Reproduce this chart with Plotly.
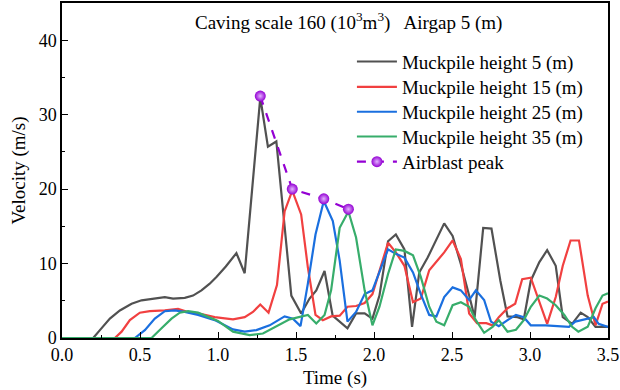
import plotly.graph_objects as go

# ---- data ----
t_h5 = [0, 0.2, 0.243, 0.307, 0.371, 0.446, 0.51, 0.584, 0.659, 0.712, 0.787, 0.84, 0.894, 0.947, 0.99, 1.05,
        1.118, 1.171, 1.271, 1.32, 1.374, 1.47, 1.533, 1.587, 1.63, 1.683, 1.735, 1.83, 1.885, 1.94, 1.99,
        2.035, 2.09, 2.14, 2.195, 2.244, 2.29, 2.344, 2.40, 2.45, 2.504, 2.557, 2.61, 2.645, 2.70, 2.753,
        2.81, 2.856, 2.92, 2.96, 3.005, 3.06, 3.11, 3.165, 3.21, 3.27, 3.325, 3.37, 3.42, 3.5]
v_h5 = [0, 0, 1.06, 2.6, 3.7, 4.6, 5.06, 5.3, 5.5, 5.3, 5.4, 5.7, 6.4, 7.3, 8.2, 9.6,
        11.4, 8.7, 32.3, 25.7, 26.4, 5.7, 3.3, 5.3, 6.4, 9.0, 3.0, 1.3, 3.3, 3.3, 2.6,
        5.7, 13.0, 13.9, 11.9, 1.5, 8.8, 10.8, 13.3, 15.4, 13.7, 9.9, 5.7, 2.8, 14.8, 14.7,
        7.7, 2.9, 2.8, 2.5, 7.7, 10.2, 11.8, 9.7, 2.8, 1.9, 3.4, 2.8, 1.5, 1.5]

t_h15 = [0, 0.339, 0.382, 0.435, 0.499, 0.563, 0.659, 0.744, 0.808, 0.894, 0.979, 1.096, 1.171, 1.224, 1.271,
         1.324, 1.378, 1.427, 1.476, 1.533, 1.576, 1.625, 1.672, 1.725, 1.78, 1.83, 1.885, 1.94, 1.99, 2.035,
         2.09, 2.14, 2.195, 2.25, 2.30, 2.354, 2.40, 2.45, 2.504, 2.557, 2.61, 2.66, 2.72, 2.76, 2.80, 2.856,
         2.905, 2.95, 3.005, 3.06, 3.11, 3.165, 3.21, 3.26, 3.314, 3.37, 3.42, 3.465, 3.5]
v_h15 = [0, 0, 0.85, 2.4, 3.4, 3.6, 3.7, 3.9, 3.5, 3.2, 2.8, 2.5, 2.8, 3.5, 4.5,
         3.4, 7.1, 17.0, 19.8, 16.6, 9.5, 3.1, 2.4, 2.9, 3.0, 4.2, 4.3, 4.7, 5.9, 9.1,
         12.8, 11.5, 9.7, 4.8, 5.3, 9.1, 10.2, 11.5, 13.1, 10.6, 3.3, 2.0, 2.0, 1.7, 2.8, 4.0,
         4.6, 7.9, 8.1, 4.8, 1.9, 5.5, 9.7, 13.1, 13.1, 5.7, 1.7, 4.6, 4.9]

t_h25 = [0, 0.467, 0.531, 0.595, 0.659, 0.723, 0.787, 0.872, 0.979, 1.096, 1.171, 1.246, 1.331, 1.427, 1.48,
         1.529, 1.576, 1.625, 1.678, 1.736, 1.78, 1.83, 1.885, 1.94, 1.99, 2.035, 2.09, 2.14, 2.195, 2.25,
         2.30, 2.354, 2.40, 2.45, 2.504, 2.557, 2.61, 2.653, 2.706, 2.75, 2.80, 2.856, 2.91, 2.96, 3.005,
         3.1, 3.2, 3.25, 3.29, 3.357, 3.41, 3.44, 3.5]
v_h25 = [0, 0, 1.06, 2.6, 3.6, 3.7, 3.5, 3.1, 2.4, 1.15, 0.85, 1.06, 1.7, 2.9, 2.6,
         1.6, 7.3, 13.9, 18.4, 15.7, 10.4, 2.2, 3.5, 5.9, 6.4, 8.8, 11.9, 11.3, 10.8, 8.8,
         5.9, 3.1, 2.9, 5.5, 6.8, 6.4, 5.1, 6.4, 5.1, 2.2, 1.6, 2.4, 3.1, 2.8, 1.7,
         1.7, 1.6, 1.5, 2.2, 2.5, 2.8, 1.9, 1.5]

t_h35 = [0, 0.574, 0.638, 0.702, 0.755, 0.808, 0.872, 0.936, 1.0, 1.096, 1.203, 1.288, 1.374, 1.459, 1.576,
         1.63, 1.683, 1.725, 1.78, 1.836, 1.885, 1.94, 1.99, 2.035, 2.09, 2.14, 2.195, 2.25, 2.30, 2.354,
         2.40, 2.45, 2.504, 2.557, 2.61, 2.653, 2.706, 2.76, 2.80, 2.856, 2.91, 2.96, 3.005, 3.06, 3.11,
         3.165, 3.22, 3.27, 3.31, 3.37, 3.42, 3.465, 3.5]
v_h35 = [0, 0, 1.3, 2.6, 3.4, 3.6, 3.4, 2.9, 2.3, 0.85, 0.4, 0.6, 1.5, 2.5, 3.1,
         1.95, 3.1, 6.4, 14.8, 17.0, 13.5, 6.4, 1.7, 4.2, 8.6, 11.9, 11.7, 11.1, 8.2, 4.2,
         2.2, 1.7, 4.4, 4.8, 4.2, 2.4, 0.7, 1.5, 2.4, 0.85, 1.1, 2.4, 4.2, 5.7, 5.3,
         4.4, 3.1, 1.5, 0.85, 1.5, 4.0, 5.7, 6.0]

t_peak = [1.271, 1.476, 1.678, 1.836]
v_peak = [32.5, 20.0, 18.7, 17.3]

names = ["Muckpile height 5 (m)", "Muckpile height 15 (m)", "Muckpile height 25 (m)", "Muckpile height 35 (m)"]
colors = ["#515151", "#F14040", "#1A6FDF", "#37AD6B"]
series = [(t_h5, v_h5), (t_h15, v_h15), (t_h25, v_h25), (t_h35, v_h35)]

FONT = "Liberation Serif"
legend_ids = ["legend", "legend2", "legend3", "legend4", "legend5"]
legend_rows = [0.825, 0.749, 0.675, 0.601, 0.526]

fig = go.Figure()
for (tt, vv), nm, col, lg in zip(series, names, colors, legend_ids):
    fig.add_trace(go.Scatter(x=tt, y=vv, mode="lines", name=nm, legend=lg,
                             line=dict(color=col, width=2.2)))

fig.add_trace(go.Scatter(x=t_peak, y=v_peak, mode="lines+markers", name="Airblast peak",
                         legend=legend_ids[4],
                         line=dict(color="#9400D3", width=2.2, dash="dash"),
                         marker=dict(color="#9400D3", size=11,
                                     gradient=dict(type="radial", color="#E2B3FF"),
                                     line=dict(width=0))))

fig.add_annotation(x=0.525, y=0.945, xref="paper", yref="paper",
                   text="Caving scale 160 (10<sup>3</sup>m<sup>3</sup>)   Airgap 5 (m)",
                   showarrow=False, font=dict(family=FONT, size=19, color="black"),
                   xanchor="center", yanchor="middle")

axis_common = dict(showline=True, linecolor="black", linewidth=1.5, mirror=True,
                   ticks="inside", ticklen=6, tickwidth=1.3, tickcolor="black",
                   showgrid=False, zeroline=False, ticklabeloverflow="allow",
                   tickfont=dict(family=FONT, size=18, color="black"))

fig.update_xaxes(range=[0, 3.5], dtick=0.5, tickformat=".1f",
                 minor=dict(ticks="inside", ticklen=3, dtick=0.25, tickcolor="black", tickwidth=1.2),
                 title=dict(text="Time (s)", font=dict(family=FONT, size=19, color="black"), standoff=6),
                 **axis_common)
fig.update_yaxes(range=[0, 45], dtick=10,
                 minor=dict(ticks="inside", ticklen=3, dtick=5, tickcolor="black", tickwidth=1.2),
                 title=dict(text="Velocity (m/s)", font=dict(family=FONT, size=19, color="black"), standoff=8),
                 **axis_common)

legend_style = dict(x=0.531, xanchor="left", yanchor="middle",
                    bgcolor="rgba(0,0,0,0)", borderwidth=0,
                    font=dict(family=FONT, size=19, color="black"), itemwidth=40)
layout_legends = {lg: dict(y=yy, **legend_style) for lg, yy in zip(legend_ids, legend_rows)}

fig.update_layout(width=620, height=390, margin=dict(l=62, r=11, t=1, b=52),
                  paper_bgcolor="white", plot_bgcolor="white",
                  font=dict(family=FONT, color="black"),
                  showlegend=True, **layout_legends)

fig.write_html("out.html")
